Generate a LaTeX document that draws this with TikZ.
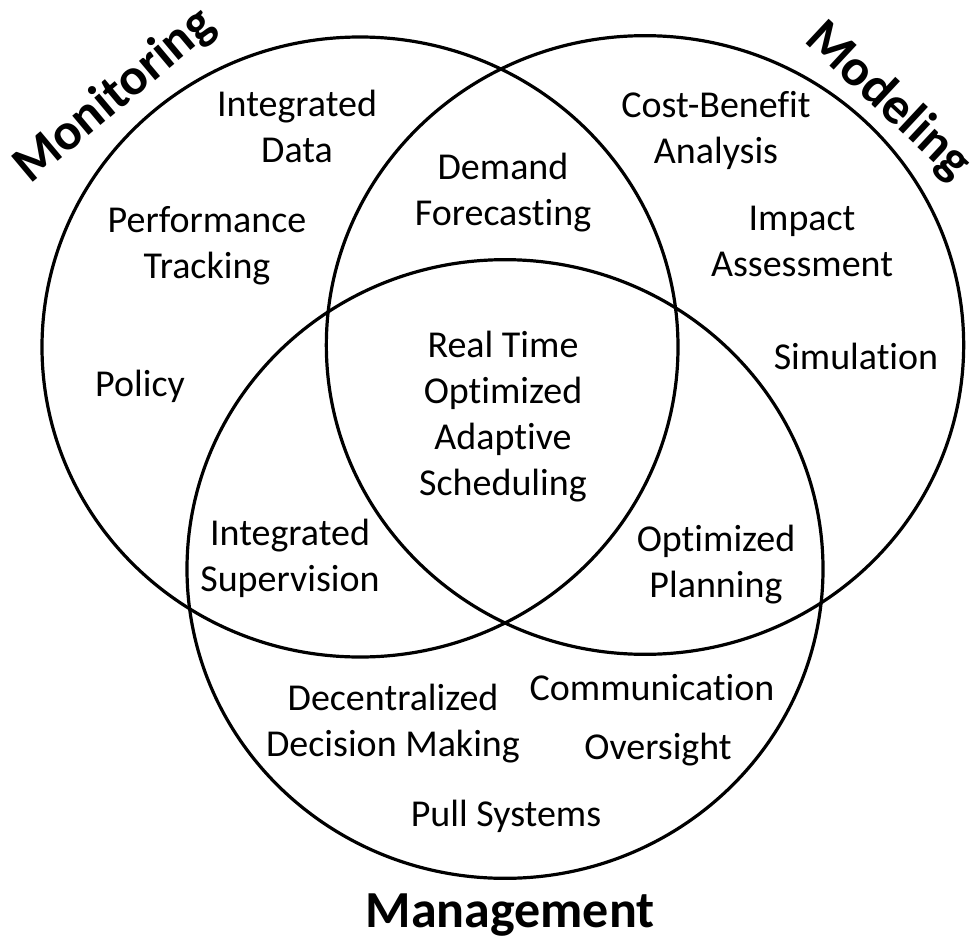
\documentclass[tikz,border=0pt]{standalone}
\usepackage{fontspec}
\setmainfont{Carlito}[Ligatures={NoCommon,NoContextual,NoRare}]
\begin{document}
\begin{tikzpicture}[x=0.75pt,y=-0.75pt,
  ring/.style={draw=black,line width=2.4pt},
  lbl/.style={font=\fontsize{28.5}{34.5}\selectfont,align=center,inner sep=0pt,text=black},
  ttl/.style={font=\fontsize{39}{46}\selectfont\bfseries,inner sep=0pt,text=black}]
\useasboundingbox (0,0) rectangle (977,949);
% circle centres
\coordinate (cMon) at (360,347);
\coordinate (cMod) at (645,345);
\coordinate (cMan) at (505,569);
\draw[ring] (cMon) ellipse [x radius=238.5pt, y radius=232.5pt];
\draw[ring] (cMod) ellipse [x radius=239pt, y radius=232pt];
\draw[ring] (cMan) ellipse [x radius=238.5pt, y radius=232pt];
% titles
\node[ttl,rotate=40] (tMon) at (115,96) {Monitoring};
\node[ttl,rotate=-43] (tMod) at (888,101) {Modeling};
\node[ttl] (tMan) at (510,915) {Management};
% labels
\node[lbl] (intData) at (297,126) {Integrated\\Data};
\node[lbl] (perf) at (207,246) {Performance\\Tracking};
\node[lbl] (policy) at (140,386) {Policy};
\node[lbl] (demand) at (503,193) {Demand\\Forecasting};
\node[lbl] (cost) at (716,130) {Cost-Benefit\\Analysis};
\node[lbl] (impact) at (802,241) {Impact\\Assessment};
\node[lbl] (sim) at (856,356) {Simulation};
\node[lbl] (rtoas) at (503,417) {Real Time\\Optimized\\Adaptive\\Scheduling};
\node[lbl] (intSup) at (290,558) {Integrated\\Supervision};
\node[lbl] (optPlan) at (716,565) {Optimized\\Planning};
\node[lbl] (decent) at (393,724) {Decentralized\\Decision Making};
\node[lbl] (comm) at (652,688) {Communication};
\node[lbl] (over) at (658,750) {Oversight};
\node[lbl] (pull) at (506,816) {Pull Systems};
\end{tikzpicture}
\end{document}
